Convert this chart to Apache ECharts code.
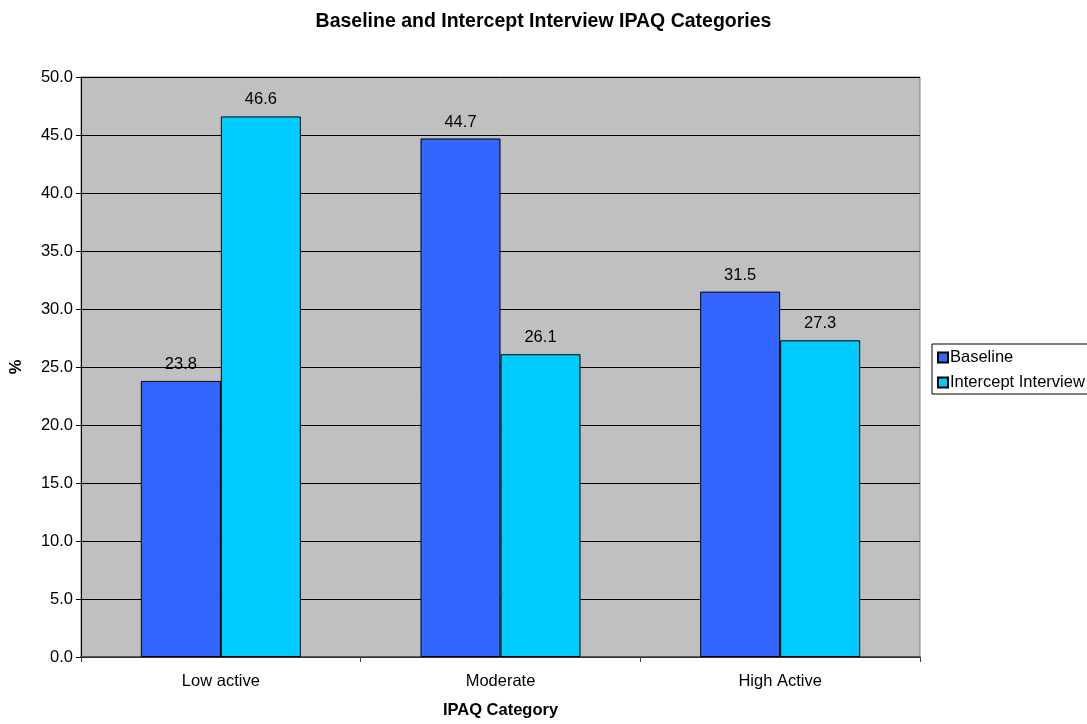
<!DOCTYPE html>
<html><head><meta charset="utf-8">
<script src="https://cdn.jsdelivr.net/npm/echarts@6/dist/echarts.min.js"></script>
<style>html,body{margin:0;padding:0;background:#fff}#c{width:1087px;height:724px}</style>
</head><body><div id="c"></div>
<script>
const categories = ['Low active', 'Moderate', 'High Active'];
const baseline = [23.8, 44.7, 31.5];
const intercept = [46.6, 26.1, 27.3];
const seriesNames = ['Baseline', 'Intercept Interview'];
const F = 'Liberation Sans, Arial, sans-serif';
const FS = 16.5;
const chart = echarts.init(document.getElementById('c'));
const lbl = {show: true, position: 'top', distance: 8, color: '#000', fontFamily: F, fontSize: FS, formatter: p => p.value.toFixed(1)};
chart.setOption({
  animation: false,
  title: {text: 'Baseline and Intercept Interview IPAQ Categories', left: 'center', top: 7,
    textStyle: {fontFamily: F, fontSize: 19.5, fontWeight: 'bold', color: '#000'}},
  grid: {left: 78, top: 77, width: 842, height: 584, show: true, backgroundColor: '#C0C0C0', borderColor: '#808080', borderWidth: 1},
  legend: {left: 932, top: 344, orient: 'vertical', itemWidth: 10, itemHeight: 10, itemGap: 8,
    padding: [5, 10, 3, 5], borderColor: '#000', borderWidth: 1, icon: 'rect',
    textStyle: {fontFamily: F, fontSize: FS, color: '#000', padding: [0, 0, 0, -3]},
    data: seriesNames},
  xAxis: {type: 'category', data: categories, name: 'IPAQ Category', nameLocation: 'middle', nameGap: 45,
    nameTextStyle: {fontFamily: F, fontSize: FS, fontWeight: 'bold', color: '#000'},
    axisLine: {lineStyle: {color: '#404040', width: 1.5}}, axisTick: {show: true, length: 5, lineStyle: {color: '#404040'}},
    axisLabel: {fontFamily: F, fontSize: FS, color: '#000', margin: 16}},
  yAxis: {type: 'value', min: 0, max: 50, interval: 5, name: '%', nameLocation: 'middle', nameGap: 56,
    nameTextStyle: {fontFamily: F, fontSize: FS, fontWeight: 'bold', color: '#000'},
    axisLine: {show: true, lineStyle: {color: '#000'}}, axisTick: {show: true, length: 5, lineStyle: {color: '#000'}},
    splitLine: {lineStyle: {color: '#000', width: 1}},
    axisLabel: {fontFamily: F, fontSize: FS, color: '#000', margin: 8, formatter: v => v.toFixed(1)}},
  series: [
    {name: seriesNames[0], type: 'bar', data: baseline, barWidth: 80, barGap: '0%',
     itemStyle: {color: '#3366FF', borderColor: '#000', borderWidth: 1}, label: lbl},
    {name: seriesNames[1], type: 'bar', data: intercept, barWidth: 80, barGap: '0%',
     itemStyle: {color: '#00CCFF', borderColor: '#000', borderWidth: 1}, label: lbl}
  ]
});
</script></body></html>
